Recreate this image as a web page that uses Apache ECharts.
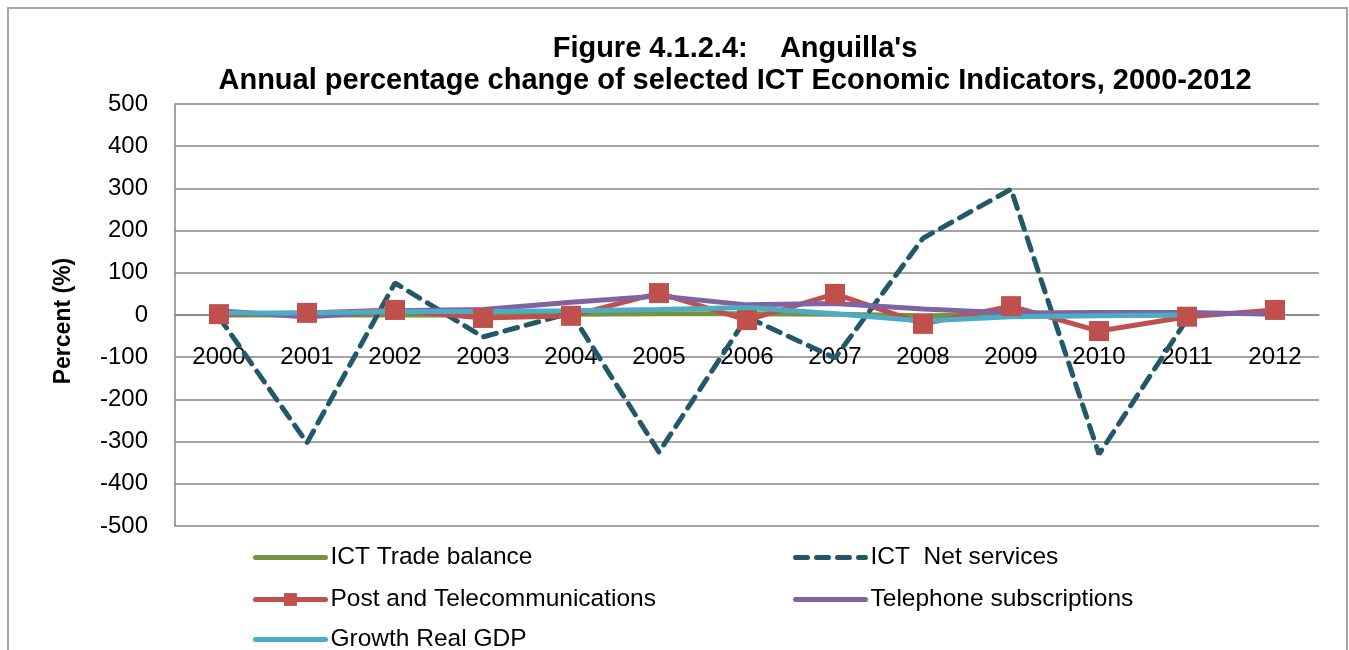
<!DOCTYPE html>
<html>
<head>
<meta charset="utf-8">
<script src="https://cdn.jsdelivr.net/npm/echarts@6/dist/echarts.min.js"></script>
<style>
  html, body { margin: 0; padding: 0; background: #fff; }
  #frame { position: absolute; left: 7px; top: 7px; width: 1341px; height: 650px; border: 2px solid #a6a6a6; box-sizing: border-box; }
  #main { width: 1349px; height: 650px; }
</style>
</head>
<body>
<div id="frame"></div>
<div id="main"></div>
<script>
// categories and values
var years = ['2000', '2001', '2002', '2003', '2004', '2005', '2006', '2007', '2008', '2009', '2010', '2011', '2012'];
var tradeBalance = [0, 0, 0, 0, 2, 3, 3, 2, -2, 0, 0, 0, null];
var netServices = [-5, -303, 76, -52, 5, -325, -5, -102, 182, 298, -330, -10, null];
var postTelecom = [2, 5, 12, -7, -2, 52, -12, 50, -21, 21, -38, -4, 12];
var phoneSubs = [10, -5, 10, 13, 30, 45, 24, 27, 14, 5, 6, 6, 2];
var realGdp = [5, 5, 8, 8, 10, 13, 18, 3, -14, -4, -2, 0, null];
var yTicks = [-500, 500, 100];

var myChart = echarts.init(document.getElementById('main'));
var font = 'Liberation Sans, Arial, sans-serif';

// 图例: 每一项单独放
function legendAt(name, left, top, hasMarker, dashed) {
  return {
    data: [name],
    left: left,
    top: top,
    itemWidth: 70,
    itemHeight: 16,
    itemStyle: hasMarker ? {} : { opacity: 0 },
    lineStyle: { width: 5, cap: 'round', type: dashed ? [12, 9] : 'solid' },
    textStyle: { fontSize: 24.5, color: '#000', fontFamily: font }
  };
}

var option = {
  animation: false,
  title: {
    text: "Figure 4.1.2.4:    Anguilla's\nAnnual percentage change of selected ICT Economic Indicators, 2000-2012",
    left: 730,
    top: 28,
    textAlign: 'center',
    textStyle: { fontSize: 29, fontWeight: 'bold', color: '#000', fontFamily: font, lineHeight: 32 }
  },
  legend: [
    legendAt('ICT Trade balance', 248, 540, false, false),
    legendAt('ICT  Net services', 788, 540, false, true),
    legendAt('Post and Telecommunications', 248, 582, true, false),
    legendAt('Telephone subscriptions', 788, 582, false, false),
    legendAt('Growth Real GDP', 248, 622, false, false)
  ],
  grid: {
    left: 175,
    right: 30,
    top: 104,
    bottom: 124
  },
  xAxis: {
    type: 'category',
    data: years,
    offset: -211,
    axisLine: { onZero: false, lineStyle: { color: '#868686', width: 1.5 } },
    axisTick: { show: false },
    axisLabel: { color: '#000', fontSize: 24, fontFamily: font, margin: 30 }
  },
  yAxis: {
    type: 'value',
    min: yTicks[0],
    max: yTicks[1],
    interval: yTicks[2],
    name: 'Percent (%)',
    nameLocation: 'middle',
    nameGap: 100,
    nameTextStyle: { fontSize: 23, fontWeight: 'bold', color: '#000', fontFamily: font, padding: [0, 12, 0, 0] },
    axisLine: { show: true, lineStyle: { color: '#868686', width: 1.5 } },
    axisTick: { show: false },
    axisLabel: { color: '#000', fontSize: 24, fontFamily: font, margin: 27 },
    splitLine: { lineStyle: { color: '#868686', width: 1.5 } }
  },
  series: [
    {
      name: 'ICT Trade balance',
      type: 'line',
      data: tradeBalance,
      symbol: 'none',
      color: '#77933C',
      lineStyle: { width: 5, color: '#77933C' }
    },
    {
      name: 'ICT  Net services',
      type: 'line',
      data: netServices,
      symbol: 'none',
      color: '#215968',
      lineStyle: { width: 5, color: '#215968', type: [13, 9], cap: 'round' }
    },
    {
      name: 'Post and Telecommunications',
      type: 'line',
      data: postTelecom,
      symbol: 'rect',
      symbolSize: 20,
      color: '#C0504D',
      itemStyle: { color: '#C0504D' },
      lineStyle: { width: 5, color: '#C0504D' }
    },
    {
      name: 'Telephone subscriptions',
      type: 'line',
      data: phoneSubs,
      symbol: 'none',
      color: '#8064A2',
      lineStyle: { width: 5, color: '#8064A2' }
    },
    {
      name: 'Growth Real GDP',
      type: 'line',
      data: realGdp,
      symbol: 'none',
      color: '#4BACC6',
      lineStyle: { width: 5, color: '#4BACC6' }
    }
  ]
};
myChart.setOption(option);
window.addEventListener('resize', function () {
  myChart.resize();
});
</script>
</body>
</html>
